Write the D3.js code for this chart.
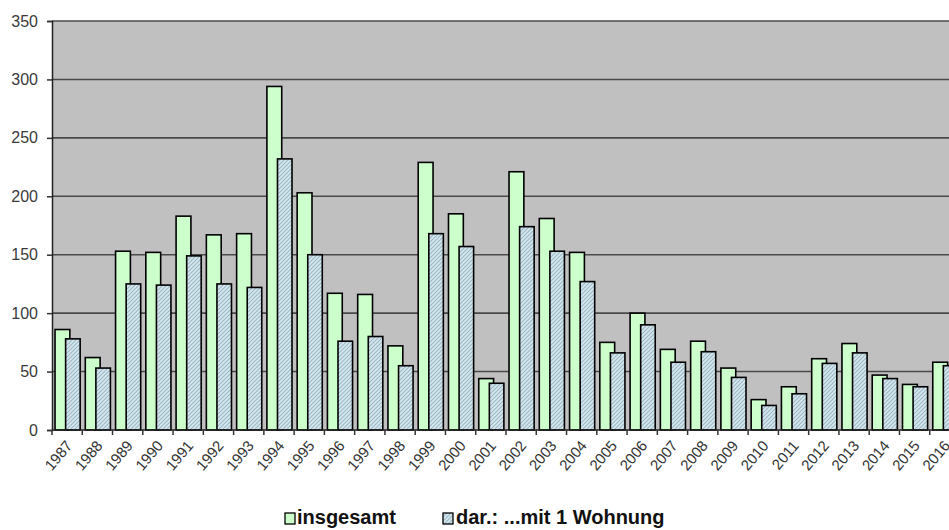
<!DOCTYPE html>
<html>
<head>
<meta charset="utf-8">
<script src="https://cdn.jsdelivr.net/npm/d3@7"></script>
<style>
  html, body { margin: 0; padding: 0; background: #ffffff; }
  svg { display: block; font-family: "Liberation Sans", Arial, sans-serif; }
</style>
</head>
<body>
<svg id="chart" width="949" height="530"></svg>
<script>
const categories = ["1987","1988","1989","1990","1991","1992","1993","1994","1995","1996",
  "1997","1998","1999","2000","2001","2002","2003","2004","2005","2006",
  "2007","2008","2009","2010","2011","2012","2013","2014","2015","2016"];
const insgesamt = [86,62,153,152,183,167,168,294,203,117,116,72,229,185,44,221,181,152,75,100,69,76,53,26,37,61,74,47,39,58];
const mit1Wohnung = [78,53,125,124,149,125,122,232,150,76,80,55,168,157,40,174,153,127,66,90,58,67,45,21,31,57,66,44,37,55];
const yTicks = [0,50,100,150,200,250,300,350];
const seriesNames = ["insgesamt", "dar.: ...mit 1 Wohnung"];

const svg = d3.select("#chart");
const plotLeft = 52, plotRight = 960, plotTop = 21, plotBottom = 430;

const x = d3.scaleBand().domain(categories).range([plotLeft, plotRight]).paddingInner(0).paddingOuter(0);
const y = d3.scaleLinear().domain([0, 350]).range([plotBottom, plotTop]);
const bw = x.bandwidth();

// hatch pattern
const defs = svg.append("defs");
const pat = defs.append("pattern").attr("id", "hatch")
  .attr("patternUnits", "userSpaceOnUse").attr("width", 4).attr("height", 4);
pat.append("rect").attr("width", 4).attr("height", 4).attr("fill", "#d6e8ef");
pat.append("path").attr("d", "M-1,1 l2,-2 M0,4 l4,-4 M3,5 l2,-2")
  .attr("stroke", "#9db7c4").attr("stroke-width", 1.1);

// plot background
svg.append("rect").attr("x", plotLeft).attr("y", plotTop)
  .attr("width", plotRight - plotLeft).attr("height", plotBottom - plotTop).attr("fill", "#c0c0c0");

// gridlines
svg.append("g").selectAll("line").data(yTicks.filter(d => d > 0)).join("line")
  .attr("x1", plotLeft).attr("x2", plotRight)
  .attr("y1", d => y(d)).attr("y2", d => y(d))
  .attr("stroke", "#4a4a4a").attr("stroke-width", 1.6);

// y axis
const yAxis = d3.axisLeft(y).tickValues(yTicks).tickSize(5).tickPadding(9).tickFormat(d3.format("d"));
const gy = svg.append("g").attr("transform", `translate(${plotLeft},0)`).call(yAxis);
gy.select(".domain").attr("stroke", "#222").attr("stroke-width", 1.5);
gy.selectAll(".tick line").attr("stroke", "#333").attr("stroke-width", 1.5);
gy.selectAll(".tick text").attr("font-size", 16).attr("fill", "#3a3a3a")
  .attr("font-family", "Liberation Sans, Arial, sans-serif");

// bars
const g = svg.append("g");
categories.forEach((c, i) => {
  g.append("rect")
    .attr("x", x(c) + bw * 0.10).attr("width", bw * 0.49)
    .attr("y", y(insgesamt[i])).attr("height", y(0) - y(insgesamt[i]))
    .attr("fill", "#ccffcc").attr("stroke", "#000").attr("stroke-width", 1.6);
  g.append("rect")
    .attr("x", x(c) + bw * 0.45).attr("width", bw * 0.48)
    .attr("y", y(mit1Wohnung[i])).attr("height", y(0) - y(mit1Wohnung[i]))
    .attr("fill", "url(#hatch)").attr("stroke", "#000").attr("stroke-width", 1.6);
});

// x axis
const gx = svg.append("g").attr("transform", `translate(0,${plotBottom})`);
gx.append("line").attr("x1", plotLeft).attr("x2", plotRight).attr("y1", 0).attr("y2", 0)
  .attr("stroke", "#222").attr("stroke-width", 1.5);
gx.selectAll("line.tk").data(categories.concat(["end"])).join("line").attr("class", "tk")
  .attr("x1", (d, i) => plotLeft + i * bw).attr("x2", (d, i) => plotLeft + i * bw)
  .attr("y1", 0).attr("y2", 5).attr("stroke", "#333").attr("stroke-width", 1.5);
gx.selectAll("text.lbl").data(categories).join("text").attr("class", "lbl")
  .attr("transform", d => `translate(${x(d) + bw / 2 + 6},${16}) rotate(-50)`)
  .attr("text-anchor", "end").attr("font-size", 15).attr("fill", "#333")
  .text(d => d);

// legend
const leg = svg.append("g");
const legItems = [
  { name: seriesNames[0], fill: "#ccffcc", sx: 285, tx: 297 },
  { name: seriesNames[1], fill: "url(#hatch)", sx: 443, tx: 456 }
];
legItems.forEach(it => {
  leg.append("rect").attr("x", it.sx).attr("y", 513).attr("width", 10).attr("height", 11)
    .attr("fill", it.fill).attr("stroke", "#000").attr("stroke-width", 1.3);
  leg.append("text").attr("x", it.tx).attr("y", 524).attr("font-size", 20)
    .attr("font-weight", "bold").attr("fill", "#111").text(it.name);
});
</script>
</body>
</html>
